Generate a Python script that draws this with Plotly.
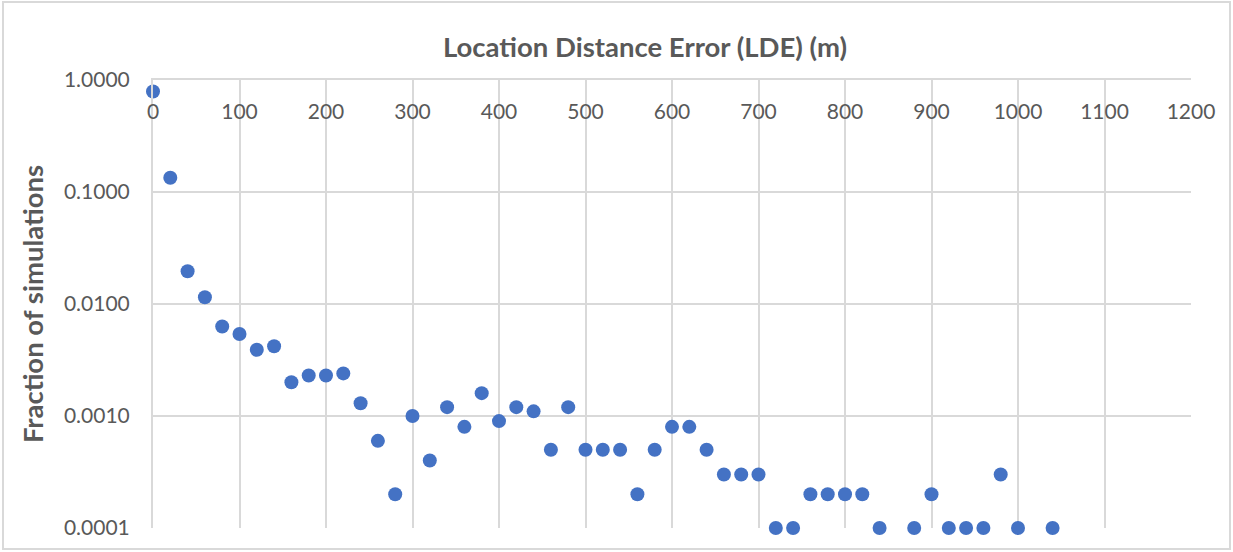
import plotly.graph_objects as go

# Location distance error bins (m) and fraction of simulations in each bin
lde_m = [0, 20, 40, 60, 80, 100, 120, 140, 160, 180, 200, 220, 240, 260, 280,
         300, 320, 340, 360, 380, 400, 420, 440, 460, 480, 500, 520, 540, 560,
         580, 600, 620, 640, 660, 680, 700, 720, 740, 760, 780, 800, 820, 840,
         880, 900, 920, 940, 960, 980, 1000, 1040]
fraction = [0.79, 0.134, 0.0196, 0.0115, 0.0063, 0.0054, 0.0039, 0.0042,
            0.0020, 0.0023, 0.0023, 0.0024, 0.0013, 0.0006, 0.0002,
            0.0010, 0.0004, 0.0012, 0.0008, 0.0016, 0.0009, 0.0012, 0.0011,
            0.0005, 0.0012, 0.0005, 0.0005, 0.0005, 0.0002,
            0.0005, 0.0008, 0.0008, 0.0005, 0.0003, 0.0003, 0.0003, 0.0001,
            0.0001, 0.0002, 0.0002, 0.0002, 0.0002, 0.0001,
            0.0001, 0.0002, 0.0001, 0.0001, 0.0001, 0.0003, 0.0001, 0.0001]

y_ticks = [1.0, 0.1, 0.01, 0.001, 0.0001]
y_labels = ["1.0000", "0.1000", "0.0100", "0.0010", "0.0001"]

W, H = 1233, 552
ML, MR, MT, MB = 153, 42, 80, 24
TEXT = "#595959"
GRID = "#D9D9D9"
FONT = "Lato"

fig = go.Figure(
    go.Scatter(
        x=lde_m, y=fraction, mode="markers",
        marker=dict(color="#4472C4", size=14, line=dict(width=0)),
        cliponaxis=False, showlegend=False,
    )
)

pw, ph = W - ML - MR, H - MT - MB
fig.update_layout(
    width=W, height=H,
    margin=dict(l=ML, r=MR, t=MT, b=MB),
    paper_bgcolor="white", plot_bgcolor="white",
    font=dict(family=FONT, color=TEXT),
    title=dict(
        text="<b>Location Distance Error (LDE) (m)</b>",
        font=dict(family=FONT, size=27.5, color=TEXT),
        x=645 / W, xref="container", xanchor="center",
        y=1 - 47 / H, yref="container", yanchor="middle",
    ),
    xaxis=dict(
        side="top", range=[0, 1200], dtick=100, tick0=0,
        showgrid=True, gridcolor=GRID, gridwidth=2,
        showline=True, linecolor=GRID, linewidth=2,
        zeroline=False, ticks="",
        ticklabelposition="inside", ticklabeloverflow="allow",
        ticklabelstandoff=26,
        tickfont=dict(family=FONT, size=21, color=TEXT),
    ),
    yaxis=dict(
        type="log", range=[-4, 0],
        tickvals=y_ticks, ticktext=y_labels,
        showgrid=True, gridcolor=GRID, gridwidth=2,
        showline=True, linecolor=GRID, linewidth=2,
        zeroline=False, ticks="", ticklabelstandoff=17,
        tickfont=dict(family=FONT, size=21, color=TEXT),
        title=dict(text="<b>Fraction of simulations</b>", standoff=12,
                   font=dict(family=FONT, size=27.5, color=TEXT)),
    ),
    shapes=[
        dict(
            type="rect", xref="paper", yref="paper",
            x0=(3 - ML) / pw, x1=(1230 - ML) / pw,
            y0=-(MB - 3) / ph, y1=1 + (MT - 2) / ph,
            line=dict(color=GRID, width=2), fillcolor="rgba(0,0,0,0)",
            layer="below",
        )
    ],
)

fig.write_html("out.html")
